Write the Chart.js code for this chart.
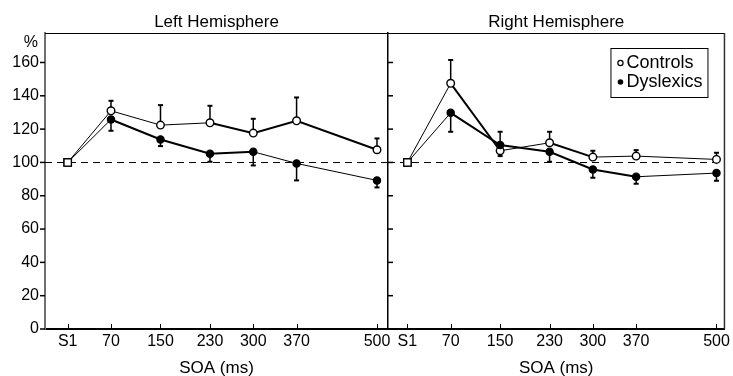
<!DOCTYPE html>
<html><head><meta charset="utf-8">
<script src="https://cdn.jsdelivr.net/npm/chart.js@4.4.1/dist/chart.umd.min.js"></script>
<style>
html,body{margin:0;padding:0;background:#fff;width:733px;height:376px;overflow:hidden}
#lw{position:absolute;left:0;top:0;width:400px;height:376px}
#rw{position:absolute;left:380px;top:0;width:353px;height:376px}
</style></head><body>
<div id="lw"><canvas id="left"></canvas></div>
<div id="rw"><canvas id="right"></canvas></div>
<script>
// ---- data ----
const soa = [0, 70, 150, 230, 300, 370, 500];
const xLabels = ['S1', '70', '150', '230', '300', '370', '500'];
const yTicks = [0, 20, 40, 60, 80, 100, 120, 140, 160];
const baseline = 100;
const panelTitles = ['Left Hemisphere', 'Right Hemisphere'];
const seriesNames = ['Controls', 'Dyslexics'];

const leftControls      = [100, 131.0, 122.4, 123.8, 117.6, 125.0, 107.6];
const leftControlsErr   = [null, 137.0, 134.4, 134.0, 126.2, 139.0, 114.4];
const leftDyslexics     = [100, 125.8, 113.8, 105.2, 106.4, 99.4, 89.2];
const leftDyslexicsErr  = [null, 119.0, 109.8, 100.4, 98.2, 89.2, 85.0];

const rightControls     = [100, 147.5, 107.0, 111.8, 103.2, 103.8, 101.8];
const rightControlsErr  = [null, 161.5, 103.8, 118.4, 107.0, 107.4, 105.8];
const rightDyslexics    = [100, 129.8, 110.4, 106.4, 95.8, 91.4, 93.6];
const rightDyslexicsErr = [null, 118.4, 118.4, 100.4, 90.8, 87.2, 89.0];

// ---- styling ----
const FONT = "'Liberation Sans', Arial, Helvetica, sans-serif";
const leftCtrlW = [1, 1, 1, 2, 2, 2];
const leftDysW  = [1, 2, 2, 2, 1, 1];
const rightCtrlW = [1, 2, 1, 2, 1, 1];
const rightDysW  = [1, 2, 2, 2, 2, 1];

function pts(vals) { return soa.map((s, i) => ({x: s, y: vals[i]})); }

function line(ctx, x0, y0, x1, y1) { ctx.beginPath(); ctx.moveTo(x0, y0); ctx.lineTo(x1, y1); ctx.stroke(); }

function decor(o) {
  return {
    id: 'decor_' + o.side,
    beforeDatasetsDraw(chart) {
      const {ctx, chartArea: a, scales: {x, y}} = chart;
      ctx.save();
      ctx.strokeStyle = '#000';
      ctx.setLineDash([7, 5]); ctx.lineWidth = 1;
      const yb = Math.round(y.getPixelForValue(baseline)) + 0.5;
      line(ctx, a.left, yb, a.right, yb);
      ctx.setLineDash([]);
      [[o.c, o.cErr], [o.d, o.dErr]].forEach(([vals, errs]) => {
        errs.forEach((e, i) => {
          if (e == null) return;
          const px = x.getPixelForValue(soa[i]);
          const p0 = y.getPixelForValue(vals[i]);
          const p1 = y.getPixelForValue(e);
          ctx.lineWidth = 1.5; line(ctx, px, p0, px, p1);
          ctx.lineWidth = 2; line(ctx, px - 2.5, p1, px + 2.5, p1);
        });
      });
      ctx.restore();
    },
    afterDraw(chart) {
      const {ctx, chartArea: a, scales: {x, y}} = chart;
      ctx.save();
      ctx.strokeStyle = '#000';
      ctx.lineWidth = 1;
      line(ctx, a.left, a.top + 0.5, a.right, a.top + 0.5);
      if (o.side === 'right') {
        ctx.strokeStyle = '#333'; ctx.lineWidth = 1.5;
        line(ctx, a.right, a.top, a.right, a.bottom);
        ctx.strokeStyle = '#000';
      }
      ctx.lineWidth = 1.5;
      yTicks.forEach(v => {
        const py = y.getPixelForValue(v);
        if (o.side === 'left') line(ctx, a.left - 5, py, a.left, py);
        else line(ctx, a.left, py, a.left + 5, py);
      });
      ctx.lineWidth = 1;
      soa.forEach(v => {
        const px = Math.round(x.getPixelForValue(v)) + 0.5;
        line(ctx, px, a.bottom, px, a.bottom - 5);
      });
      ctx.fillStyle = '#000';
      ctx.font = '17px ' + FONT;
      ctx.textAlign = 'center'; ctx.textBaseline = 'middle';
      ctx.fillText(o.title, (a.left + a.right) / 2, 22);
      if (o.side === 'left') {
        ctx.font = '16px ' + FONT;
        ctx.textAlign = 'right';
        ctx.fillText('%', a.left - 7, 43);
      }
      if (o.legend) {
        const bx = a.right - 114, by = a.top + 15, bw = 97, bh = 49;
        ctx.lineWidth = 1; ctx.strokeStyle = '#000';
        ctx.strokeRect(bx + 0.5, by + 0.5, bw, bh);
        ctx.font = '18px ' + FONT;
        ctx.textAlign = 'left';
        ctx.beginPath(); ctx.arc(bx + 10, by + 15, 2.6, 0, Math.PI * 2);
        ctx.fillStyle = '#fff'; ctx.fill(); ctx.lineWidth = 1.2; ctx.stroke();
        ctx.fillStyle = '#000';
        ctx.fillText(seriesNames[0], bx + 16, by + 15);
        ctx.beginPath(); ctx.arc(bx + 10, by + 34, 2.8, 0, Math.PI * 2); ctx.fill();
        ctx.fillText(seriesNames[1], bx + 16, by + 34);
      }
      ctx.restore();
    }
  };
}

function makeChart(id, o) {
  const pStyle = soa.map((s, i) => i === 0 ? 'rect' : 'circle');
  const pRad = soa.map((s, i) => i === 0 ? 5.2 : 3.8);
  const dRad = soa.map((s, i) => i === 0 ? 5.2 : 3.6);
  return new Chart(document.getElementById(id), {
    type: 'line',
    data: {
      datasets: [
        {
          label: seriesNames[1], data: pts(o.d),
          borderColor: '#000', borderWidth: 1,
          segment: { borderWidth: c => o.dW[c.p0DataIndex] },
          pointStyle: pStyle, pointRadius: dRad,
          pointBackgroundColor: soa.map((s, i) => i === 0 ? '#fff' : '#000'),
          pointBorderColor: '#000', pointBorderWidth: 1.3, tension: 0
        },
        {
          label: seriesNames[0], data: pts(o.c),
          borderColor: '#000', borderWidth: 1,
          segment: { borderWidth: c => o.cW[c.p0DataIndex] },
          pointStyle: pStyle, pointRadius: pRad,
          pointBackgroundColor: '#fff',
          pointBorderColor: '#000', pointBorderWidth: 1.4, tension: 0
        }
      ]
    },
    options: {
      responsive: true, maintainAspectRatio: false, animation: false, devicePixelRatio: 1,
      layout: { padding: o.padding },
      plugins: { legend: { display: false }, tooltip: { enabled: false }, title: { display: false } },
      scales: {
        x: {
          type: 'linear', min: o.xMin, max: o.xMax,
          afterBuildTicks: s => { s.ticks = soa.map(v => ({value: v})); },
          afterFit: s => { s.height = 47; },
          ticks: {
            callback: (v, i) => xLabels[i], autoSkip: false, maxRotation: 0,
            font: { family: FONT, size: 16 }, color: '#000', padding: 3
          },
          grid: { display: false, drawTicks: false, tickLength: 0 },
          border: { display: true, color: '#000', width: 2 },
          title: { display: true, text: 'SOA (ms)', color: '#000',
                   font: { family: FONT, size: 17, lineHeight: 1 }, padding: { top: 0, bottom: -1 } }
        },
        y: {
          min: 0, max: 177.7,
          afterBuildTicks: s => { s.ticks = yTicks.map(v => ({value: v})); },
          afterFit: s => { s.width = o.yW; },
          ticks: {
            display: o.side === 'left',
            font: { family: FONT, size: 16 }, color: '#000', padding: 6
          },
          grid: { display: false, drawTicks: false, tickLength: 0 },
          border: { display: true, color: o.side === 'left' ? '#707070' : '#000', width: o.side === 'left' ? 2 : 1.5 }
        }
      }
    },
    plugins: [decor(o)]
  });
}

makeChart('left', {
  side: 'left', title: panelTitles[0],
  c: leftControls, cErr: leftControlsErr, d: leftDyslexics, dErr: leftDyslexicsErr,
  cW: leftCtrlW, dW: leftDysW,
  xMin: -36.7, xMax: 517.8, yW: 45,
  padding: { top: 33, right: 12, bottom: 0, left: 0 }, legend: false
});
makeChart('right', {
  side: 'right', title: panelTitles[1],
  c: rightControls, cErr: rightControlsErr, d: rightDyslexics, dErr: rightDyslexicsErr,
  cW: rightCtrlW, dW: rightDysW,
  xMin: -31.4, xMax: 512.9, yW: 8,
  padding: { top: 33, right: 7, bottom: 0, left: 0 }, legend: true
});
</script>
</body></html>
